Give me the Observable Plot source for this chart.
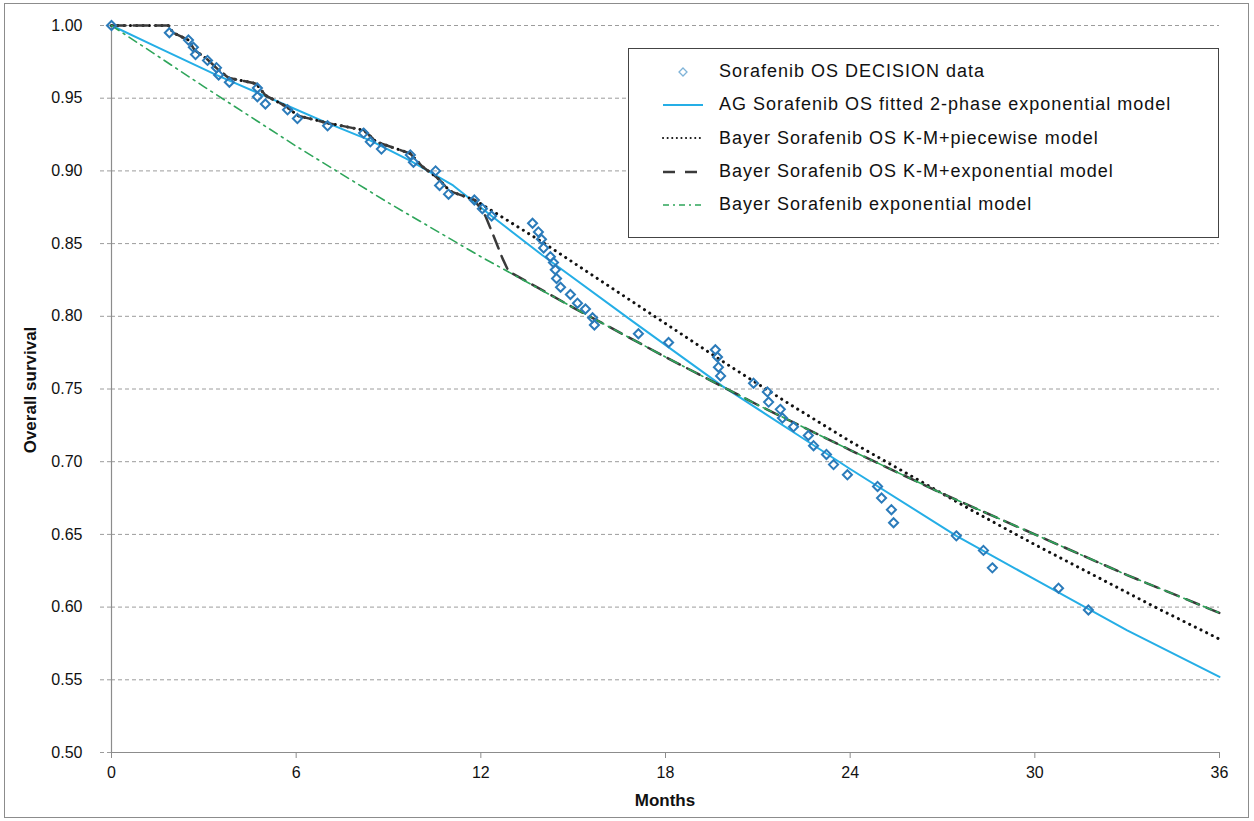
<!DOCTYPE html>
<html><head><meta charset="utf-8">
<script src="https://cdn.jsdelivr.net/npm/d3@7"></script>
<script src="https://cdn.jsdelivr.net/npm/@observablehq/plot@0.6"></script>
<style>
body{margin:0;background:#fff;}
#wrap{position:relative;width:1254px;height:821px;overflow:hidden;background:#fff;}
#chart{position:absolute;left:0;top:0;}
#frame{position:absolute;left:4px;top:3px;width:1245px;height:815px;border:1px solid #8c8c8c;box-sizing:border-box;pointer-events:none;}
#legend{position:absolute;left:628px;top:48px;width:591px;height:190px;border:1px solid #444;background:#fff;box-sizing:border-box;padding-top:6px;}
.row{height:33.3px;display:flex;align-items:center;font-family:'Liberation Sans',Arial,sans-serif;font-size:18px;color:#111;letter-spacing:1px;white-space:nowrap;}
.row svg{margin-left:32px;margin-right:14px;flex:none;}
.title{position:absolute;font-family:'Liberation Sans Narrow','Liberation Sans',Arial,sans-serif;font-weight:bold;font-size:17px;color:#111;white-space:nowrap;}
</style></head><body>
<div id="wrap">
  <div id="chart"></div>
  <div id="legend"></div>
  <div class="title" id="xtitle" style="left:665px;top:791px;transform:translateX(-50%);">Months</div>
  <div class="title" id="ytitle" style="left:31px;top:390px;transform:translate(-50%,-50%) rotate(-90deg);">Overall survival</div>
  <div id="frame"></div>
</div>
<script>
// ---- Axis ticks ----
const xTicks = [0, 6, 12, 18, 24, 30, 36];
const yTicks = [0.50, 0.55, 0.60, 0.65, 0.70, 0.75, 0.80, 0.85, 0.90, 0.95, 1.00];

// ---- Sorafenib OS DECISION data (diamonds) ----
const osMonths = [0, 1.88, 2.50, 2.66, 2.73, 3.12, 3.41, 3.48, 3.83, 4.74, 4.74, 5.00, 5.72, 6.04, 7.02, 8.19, 8.41, 8.77, 9.71, 9.81, 10.53, 10.66, 10.95,
  11.79, 12.05, 12.35, 13.68, 13.87, 13.97, 14.04, 14.26, 14.36, 14.42, 14.46, 14.59, 14.91, 15.14, 15.40, 15.63, 15.69,
  17.12, 18.10, 19.62, 19.69, 19.72, 19.79, 20.86, 21.31, 21.35, 21.73, 21.80, 22.16, 22.64, 22.81, 23.23, 23.46, 23.91,
  24.89, 25.02, 25.34, 25.41, 27.45, 28.33, 28.62, 30.77, 31.74];
const osSurvival = [1.000, 0.995, 0.990, 0.985, 0.980, 0.976, 0.971, 0.966, 0.961, 0.957, 0.951, 0.946, 0.942, 0.936, 0.931, 0.926, 0.920, 0.915, 0.911, 0.906, 0.900, 0.890, 0.884,
  0.880, 0.874, 0.869, 0.864, 0.858, 0.853, 0.847, 0.841, 0.837, 0.832, 0.826, 0.820, 0.815, 0.809, 0.805, 0.799, 0.794,
  0.788, 0.782, 0.777, 0.772, 0.765, 0.759, 0.754, 0.748, 0.741, 0.736, 0.730, 0.724, 0.718, 0.711, 0.705, 0.698, 0.691,
  0.683, 0.675, 0.667, 0.658, 0.649, 0.639, 0.627, 0.613, 0.598];

// ---- AG Sorafenib OS fitted 2-phase exponential model ----
const fitMonths = [0, 1.5, 3.4, 5.7, 7.0, 8.4, 9.7, 11.1, 12.35, 14, 16.9, 19.85, 22.4, 24, 27.45, 30, 33, 36];
const fitSurvival = [1.000, 0.985, 0.966, 0.945, 0.933, 0.921, 0.907, 0.890, 0.869, 0.842, 0.797, 0.752, 0.717, 0.695, 0.649, 0.619, 0.584, 0.552];

// ---- Shared Kaplan-Meier part of Bayer models ----
const kmMonths = [0, 1.85, 2.0, 2.5, 2.7, 3.1, 3.45, 3.8, 4.7, 5.0, 5.7, 6.05, 7.0, 8.2, 8.6, 9.7, 10.1, 10.6, 11.0, 11.8];
const kmSurvival = [1.000, 1.000, 0.995, 0.990, 0.983, 0.977, 0.970, 0.964, 0.960, 0.952, 0.944, 0.938, 0.933, 0.928, 0.920, 0.912, 0.903, 0.895, 0.886, 0.880];

// ---- Bayer K-M + piecewise tail ----
const pieceMonths = [11.8, 14, 16, 18, 20, 22, 24, 26, 28, 30, 32, 34, 36];
const pieceSurvival = [0.880, 0.851, 0.823, 0.795, 0.767, 0.740, 0.714, 0.690, 0.666, 0.643, 0.621, 0.599, 0.578];

// ---- Bayer K-M + exponential tail ----
const kmExpMonths = [11.8, 12.15, 12.4, 12.7, 12.9, 15, 18, 21, 24, 27, 30, 33, 36];
const kmExpSurvival = [0.880, 0.869, 0.856, 0.840, 0.831, 0.806, 0.772, 0.739, 0.708, 0.678, 0.650, 0.622, 0.596];

// ---- Bayer exponential model ----
const expMonths = [0, 3, 6, 9, 12, 15, 18, 21, 24, 27, 30, 33, 36];
const expSurvival = [1.000, 0.958, 0.917, 0.878, 0.841, 0.806, 0.772, 0.739, 0.708, 0.678, 0.650, 0.622, 0.596];

const zip = (xs, ys) => xs.map((x, i) => ({x, y: ys[i]}));
const osData = zip(osMonths, osSurvival);
const fitData = zip(fitMonths, fitSurvival);
const pieceData = zip(kmMonths, kmSurvival).concat(zip(pieceMonths, pieceSurvival).slice(1));
const kmExpData = zip(kmMonths, kmSurvival).concat(zip(kmExpMonths, kmExpSurvival).slice(1));
const expData = zip(expMonths, expSurvival);

const C = {
  data: "#2b7bba",
  fit: "#25aee6",
  piece: "#111111",
  kmexp: "#3a3a3a",
  exp: "#2ea55a",
  grid: "#9c9c9c",
  axis: "#8c8c8c"
};
const S = {
  piece: {stroke: C.piece, strokeWidth: 3, strokeDasharray: "0.1,6.2", strokeLinecap: "round"},
  kmexp: {stroke: C.kmexp, strokeWidth: 2.5, strokeDasharray: "14,8"},
  exp: {stroke: C.exp, strokeWidth: 1.6, strokeDasharray: "9,5,2,5"},
  fit: {stroke: C.fit, strokeWidth: 2}
};

const chart = Plot.plot({
  width: 1254, height: 821,
  marginLeft: 111, marginRight: 35, marginTop: 25, marginBottom: 69,
  style: {background: "transparent", fontFamily: "'Liberation Sans', Arial, sans-serif"},
  x: {domain: [0, 36]},
  y: {domain: [0.5, 1.0]},
  marks: [
    Plot.ruleY(yTicks.filter(d => d > 0.5), {stroke: C.grid, strokeDasharray: "4,3", strokeWidth: 1}),
    Plot.ruleX([0], {stroke: C.axis, strokeWidth: 1.2}),
    Plot.ruleY([0.5], {stroke: C.axis, strokeWidth: 1.2}),
    Plot.axisX({ticks: xTicks, tickSize: 6, tickPadding: 8, stroke: C.axis, color: "#111", fontSize: 16,
      fontFamily: "'Liberation Sans Narrow','Liberation Sans',Arial,sans-serif", label: null, tickFormat: d => d}),
    Plot.axisY({ticks: yTicks, tickSize: 14, tickPadding: 15, stroke: C.grid, strokeDasharray: "4,3", color: "#111", fontSize: 16,
      tickFormat: d3.format(".2f"), label: null}),
    Plot.line(fitData, {x: "x", y: "y", ...S.fit}),
    Plot.line(pieceData, {x: "x", y: "y", ...S.piece}),
    Plot.line(kmExpData, {x: "x", y: "y", ...S.kmexp}),
    Plot.line(expData, {x: "x", y: "y", ...S.exp}),
    Plot.dot(osData, {x: "x", y: "y", symbol: "diamond2", r: 4.1, stroke: C.data, strokeWidth: 2, fill: "none"})
  ]
});
document.getElementById("chart").appendChild(chart);

// ---- Legend ----
const legendItems = [
  {label: "Sorafenib OS DECISION data", kind: "dot"},
  {label: "AG Sorafenib OS fitted 2-phase exponential model", kind: "fit"},
  {label: "Bayer Sorafenib OS K-M+piecewise model", kind: "piece"},
  {label: "Bayer Sorafenib OS K-M+exponential model", kind: "kmexp"},
  {label: "Bayer Sorafenib exponential model", kind: "exp"}
];
const legend = document.getElementById("legend");
const ns = "http://www.w3.org/2000/svg";
for (const it of legendItems) {
  const row = document.createElement("div");
  row.className = "row";
  const sw = document.createElementNS(ns, "svg");
  sw.setAttribute("width", 44); sw.setAttribute("height", 20);
  if (it.kind === "dot") {
    const p = document.createElementNS(ns, "path");
    p.setAttribute("d", "M22,6 L26,10 L22,14 L18,10 Z");
    p.setAttribute("fill", "none"); p.setAttribute("stroke", "#7fb3d8"); p.setAttribute("stroke-width", 1.3);
    sw.appendChild(p);
  } else {
    const st = S[it.kind];
    const l = document.createElementNS(ns, "line");
    l.setAttribute("x1", 2); l.setAttribute("x2", 42); l.setAttribute("y1", 10); l.setAttribute("y2", 10);
    l.setAttribute("stroke", st.stroke);
    l.setAttribute("stroke-width", it.kind === "piece" ? 2 : st.strokeWidth);
    if (it.kind === "piece") { l.setAttribute("stroke-dasharray", "0.1,4.5"); l.setAttribute("stroke-linecap", "round"); }
    else if (st.strokeDasharray) l.setAttribute("stroke-dasharray", it.kind === "kmexp" ? "12,10" : "6,4,2,4");
    sw.appendChild(l);
  }
  row.appendChild(sw);
  const t = document.createElement("span");
  t.textContent = it.label;
  row.appendChild(t);
  legend.appendChild(row);
}
</script>
</body></html>
